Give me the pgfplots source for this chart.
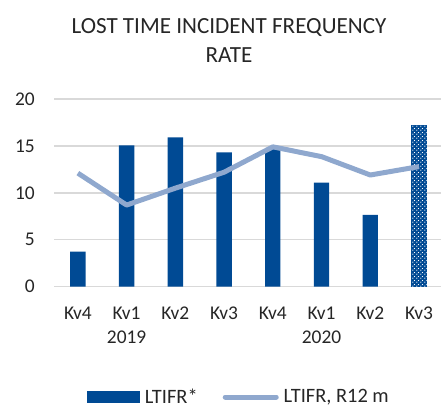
\documentclass[border=0pt]{standalone}
\usepackage{pgfplots}
\pgfplotsset{compat=1.18}
\usepackage{fontspec}
\setmainfont{Carlito}
\usetikzlibrary{patterns}
\definecolor{barblue}{RGB}{0,74,148}
\definecolor{lineblue}{RGB}{143,168,206}
\definecolor{gridgray}{RGB}{217,217,217}
\definecolor{txt}{RGB}{38,38,38}
\pgfdeclarepatternformonly{wdots}{\pgfqpoint{0bp}{0bp}}{\pgfqpoint{4bp}{4bp}}{\pgfqpoint{4bp}{4bp}}{%
  \pgfpathcircle{\pgfqpoint{1bp}{1bp}}{0.75bp}%
  \pgfpathcircle{\pgfqpoint{3bp}{3bp}}{0.75bp}%
  \pgfusepath{fill}}
\begin{document}
\begin{tikzpicture}
\useasboundingbox (-54bp,-120.3bp) rectangle (387bp,286.7bp);
\begin{axis}[
  at={(0,0)}, anchor=south west,
  scale only axis, width=387bp, height=187.7bp,
  xmin=-0.49, xmax=7.45, ymin=0, ymax=20,
  ytick={0,5,10,15,20},
  xtick={0,...,7},
  xticklabels={Kv4,{Kv1\\2019},Kv2,Kv3,Kv4,{Kv1\\2020},Kv2,Kv3},
  axis line style={draw=none},
  major tick length=0pt,
  ymajorgrids, grid style={gridgray, line width=1.3bp},
  /pgf/number format/assume math mode=true,
  yticklabel style={anchor=east, inner sep=0pt, xshift=-19bp, font=\fontsize{19.5}{19.5}\selectfont, text=txt},
  xticklabel style={anchor=north, inner sep=0pt, yshift=-20bp, align=center, font=\fontsize{19.5}{24}\selectfont, text=txt},
  clip=false,
  legend style={at={(0.4746,-0.588)}, anchor=center, draw=none, fill=none,
    legend columns=2, font=\fontsize{20.5}{20.5}\selectfont, text=txt,
    /tikz/every odd column/.append style={column sep=5bp},
    /tikz/every even column/.append style={column sep=25bp},
    nodes={inner sep=0pt}, inner sep=0pt, legend cell align=left},
]
\addplot[ybar, bar width=15.3bp, bar shift=0pt, fill=barblue, draw=none,
  legend image code/.code={\fill[barblue] (0bp,-5.8bp) rectangle (53.4bp,5.8bp);}]
  coordinates {(0,3.73) (1,15.07) (2,15.9) (3,14.3) (4,14.75) (5,11.1) (6,7.65)};
\addlegendentry{LTIFR*}
\addplot[ybar, bar width=15.3bp, bar shift=0pt, fill=barblue, draw=none, forget plot,
  postaction={pattern=wdots, pattern color=white}]
  coordinates {(7,17.25)};
\addplot[lineblue, line width=5bp, line join=round, no marks,
  legend image code/.code={\draw[lineblue, line width=5bp, line cap=round] (2.5bp,0bp) -- (53.5bp,0bp);}]
  coordinates {(0,12.1) (1,8.7) (2,10.5) (3,12.2) (4,14.9) (5,13.86) (6,11.9) (7,12.8)};
\addlegendentry{LTIFR, R12 m}
\end{axis}
\node[anchor=base, text=txt, font=\fontsize{23.2}{23.2}\selectfont] at (175bp,253.4bp) {LOST TIME INCIDENT FREQUENCY};
\node[anchor=base, text=txt, font=\fontsize{23.2}{23.2}\selectfont] at (175bp,224.4bp) {RATE};
\end{tikzpicture}
\end{document}
